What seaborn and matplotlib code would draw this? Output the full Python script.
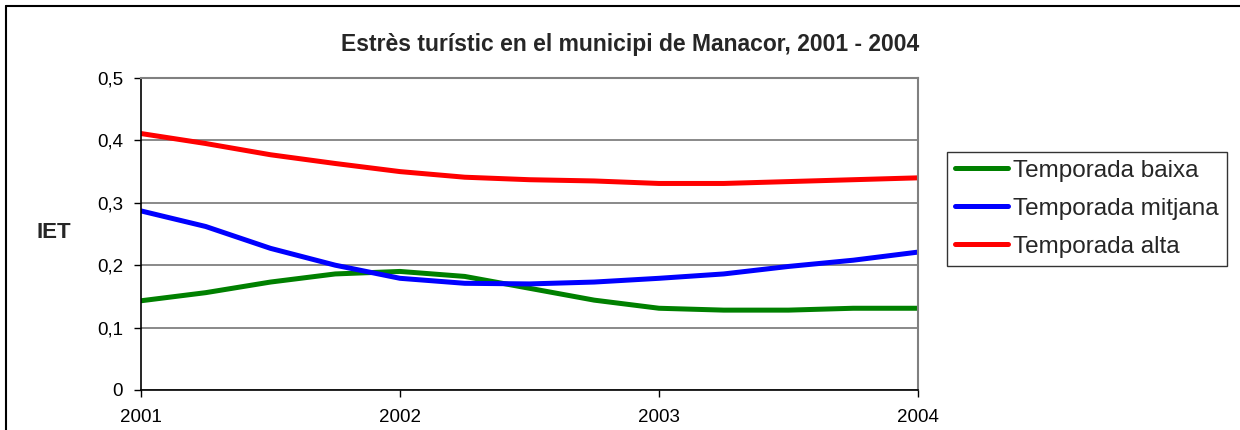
import seaborn as sns
import matplotlib.pyplot as plt
import pandas as pd
from matplotlib.lines import Line2D

# quarterly points
periods = [2001.0, 2001.25, 2001.5, 2001.75, 2002.0, 2002.25, 2002.5,
           2002.75, 2003.0, 2003.25, 2003.5, 2003.75, 2004.0]
baixa = [0.143, 0.156, 0.173, 0.186, 0.190, 0.182, 0.163,
         0.144, 0.131, 0.128, 0.128, 0.131, 0.131]
mitjana = [0.287, 0.262, 0.227, 0.200, 0.179, 0.171, 0.170,
           0.173, 0.179, 0.186, 0.198, 0.208, 0.221]
alta = [0.411, 0.395, 0.377, 0.363, 0.350, 0.341, 0.337,
        0.335, 0.331, 0.331, 0.334, 0.337, 0.340]

series_names = ["Temporada baixa", "Temporada mitjana", "Temporada alta"]
year_ticks = [2001, 2002, 2003, 2004]
y_ticks = [0, 0.1, 0.2, 0.3, 0.4, 0.5]
y_labels = ["0", "0,1", "0,2", "0,3", "0,4", "0,5"]

rows = []
for name, vals in zip(series_names, [baixa, mitjana, alta]):
    for p, v in zip(periods, vals):
        rows.append({"Any": p, "IET": v, "Serie": name})
df = pd.DataFrame(rows)

sns.set_style("white")
plt.rcParams['font.family'] = ['Liberation Sans', 'DejaVu Sans']

fig = plt.figure(figsize=(12.4, 4.3), dpi=100)
ax = fig.add_axes([141 / 1240, 40 / 430, 777 / 1240, 312 / 430])

palette = {"Temporada baixa": "#008000", "Temporada mitjana": "#0000FF",
           "Temporada alta": "#FF0000"}
sns.lineplot(data=df, x="Any", y="IET", hue="Serie", palette=palette,
             linewidth=3.6, ax=ax, legend=False)

ax.set_xlim(2001, 2004)
ax.set_ylim(0, 0.5)
ax.set_xticks(year_ticks)
ax.set_xticklabels([str(y) for y in year_ticks])
ax.set_yticks(y_ticks)
ax.set_yticklabels(y_labels)
ax.yaxis.grid(True, color="#808080", linewidth=1.3)
ax.set_axisbelow(True)
ax.tick_params(axis="both", direction="out", length=5, width=1,
               color="black", labelsize=13.5, labelcolor="black",
               left=True, bottom=True)
ax.tick_params(axis="x", pad=9)
ax.tick_params(axis="y", pad=8)
ax.set_xlabel("")
ax.set_ylabel("")
for side in ["left", "bottom"]:
    ax.spines[side].set_color("black")
    ax.spines[side].set_linewidth(1.2)
for side in ["right", "top"]:
    ax.spines[side].set_color("#808080")
    ax.spines[side].set_linewidth(1.5)

fig.text(630 / 1240, 1 - 45 / 430,
         "Estrès turístic en el municipi de Manacor, 2001 - 2004",
         ha="center", va="center", fontsize=16.5, fontweight="bold")
fig.text(54 / 1240, 1 - 232 / 430, "IET", ha="center", va="center",
         fontsize=16, fontweight="bold")

handles = ax.get_lines()[:3]
leg = fig.legend(handles, series_names, loc="upper left",
                 bbox_to_anchor=(947 / 1240, 1 - 152 / 430),
                 fontsize=17.5, frameon=True, fancybox=False,
                 edgecolor="black", handlelength=2.2, handletextpad=0.2,
                 labelspacing=0.66, borderpad=0.32, borderaxespad=0)
leg.get_frame().set_linewidth(1.0)

# outer chart frame (top and left edges only, the rest is cut off)
fig.add_artist(Line2D([5.5 / 1240, 1.0], [1 - 6 / 430, 1 - 6 / 430],
                      transform=fig.transFigure, color="black", linewidth=1.5))
fig.add_artist(Line2D([5.5 / 1240, 5.5 / 1240], [0.0, 1 - 6 / 430],
                      transform=fig.transFigure, color="black", linewidth=1.5))

fig.savefig("out.png", dpi=100)
